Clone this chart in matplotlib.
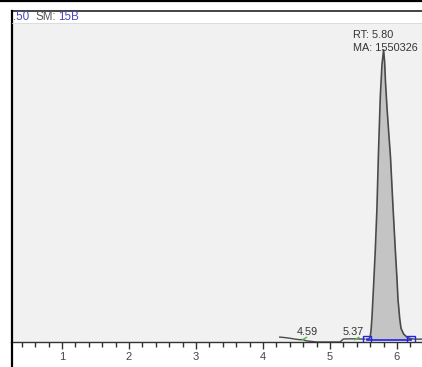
import matplotlib
matplotlib.use("Agg")
import matplotlib.pyplot as plt
from matplotlib.lines import Line2D
import numpy as np

plt.rcParams['font.family'] = ['Liberation Sans', 'DejaVu Sans']

# ---- data ----
header_scan = ".50"
header_sm_label = "SM:"
header_sm_value = "15B"

# baseline trace (retention time, relative intensity)
base_rt = [4.25, 4.32, 4.40, 4.48, 4.55, 4.59, 4.65, 4.80, 5.00, 5.15, 5.20, 5.30, 5.37, 5.45, 5.52]
base_int = [1.0, 0.85, 0.6, 0.3, 0.1, 0.15, -0.3, -0.69, -0.69, -0.69, 0.35, 0.4, 0.4, 0.35, 0.3]

# main peak trace
peak_rt = [5.55, 5.58, 5.60, 5.613, 5.627, 5.649, 5.676, 5.70, 5.724, 5.751, 5.776, 5.80,
           5.815, 5.828, 5.851, 5.875, 5.903, 5.94, 5.975, 6.00, 6.015, 6.04, 6.06, 6.10,
           6.16, 6.21]
peak_int = [0.3, 0.4, 1.0, 3.4, 8, 18, 31, 45, 65, 84, 95, 100,
            96, 89, 80, 72, 63, 46, 31, 21, 14, 7.5, 4.0, 2.0,
            0.8, 0.4]

# trace after peak
tail_rt = [6.21, 6.30, 6.40]
tail_int = [0.4, 0.3, 0.3]

peak_start, peak_end = 5.55, 6.21
main_rt_label = "RT: 5.80"
main_area_label = "MA: 1550326"
minor_peaks = [4.59, 5.37]
minor_labels = ["4.59", "5.37"]

xticks = [1, 2, 3, 4, 5, 6]

# ---- figure ----
W, H = 422, 367
fig = plt.figure(figsize=(W / 100, H / 100), dpi=100)
fig.patch.set_facecolor("white")

ax_left = 11 / W
ax_bottom = (H - 342) / H
ax_top = (H - 23) / H
ax = fig.add_axes([ax_left, ax_bottom, 1.0 - ax_left, ax_top - ax_bottom])
ax.set_facecolor("#f1f1f1")

xmin = 1 + (11 - 62) / 67
xmax = 1 + (422 - 62) / 67
ax.set_xlim(xmin, xmax)
ax.set_ylim(-0.69, 109.3)

trace_color = "#4a4a4a"
ax.plot(base_rt, base_int, color=trace_color, lw=1.0)
ax.plot(tail_rt, tail_int, color=trace_color, lw=1.0)
ax.fill_between(peak_rt, [0] * len(peak_rt), peak_int, color="#c4c4c4", lw=0)
ax.plot(peak_rt, peak_int, color=trace_color, lw=1.2)

# integration baseline
ax.plot([peak_start, peak_end], [0, 0], color="#2222ee", lw=1.2)
ax.plot([peak_start, peak_end], [0, 0], ls="none", marker="s", ms=5.5,
        mfc="none", mec="#2222ee", mew=1.0)

# labels
ax.text(5.34, 107.0, main_rt_label, fontsize=7.8, color="#333333", va="top", ha="left")
ax.text(5.34, 102.5, main_area_label, fontsize=7.8, color="#333333", va="top", ha="left")
for rt, lab in zip(minor_peaks, minor_labels):
    ax.text(rt + (0.07 if rt < 5 else -0.03), 0.9, lab, fontsize=7.8, color="#333333",
            ha="center", va="bottom")
    ax.plot([rt, rt + 0.06], [0.1, 0.9], color="#55bb55", lw=1.0)

# axes styling
for s in ["top", "right", "left"]:
    ax.spines[s].set_visible(False)
ax.spines["bottom"].set_color("#333333")
ax.spines["bottom"].set_linewidth(1.0)
ax.set_yticks([])
ax.set_xticks(xticks)
ax.set_xticklabels([str(t) for t in xticks])
ax.set_xticks(np.arange(0.4, 6.4, 0.2), minor=True)
ax.tick_params(axis="x", which="major", direction="out", length=5, width=1,
               color="#333333", labelsize=8, labelcolor="#444444", pad=2.5)
ax.tick_params(axis="x", which="minor", direction="out", length=3.5, width=1,
               color="#333333")

# frame lines (figure pixels)
fig.add_artist(Line2D([0, 1], [1 - 0.8 / H, 1 - 0.8 / H], color="black", lw=1.6))
fig.add_artist(Line2D([11.5 / W, 1], [1 - 10.5 / H, 1 - 10.5 / H], color="#111111", lw=1.1))
fig.add_artist(Line2D([11.8 / W, 11.8 / W], [0, 1 - 10.5 / H], color="black", lw=1.6))
fig.add_artist(Line2D([12 / W, 1], [1 - 23 / H, 1 - 23 / H], color="#d8d8d8", lw=0.6))

# header text
hdr_fs = 8.4
fig.text(12.5 / W, 1 - 17.5 / H, header_scan, fontsize=hdr_fs, color="#4a4ab8",
         va="center", ha="left")
fig.text(36 / W, 1 - 17.5 / H, header_sm_label, fontsize=hdr_fs, color="#555555",
         va="center", ha="left")
fig.text(58 / W, 1 - 17.5 / H, header_sm_value, fontsize=hdr_fs, color="#4a4ab8",
         va="center", ha="left")

fig.savefig("out.png", dpi=100)
